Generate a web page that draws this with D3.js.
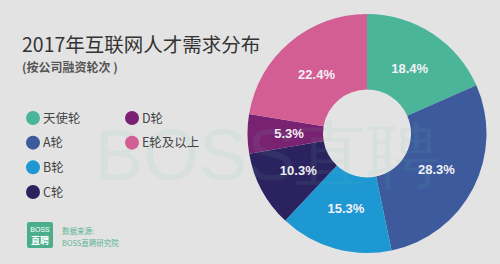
<!DOCTYPE html>
<html>
<head>
<meta charset="utf-8">
<script src="https://cdn.jsdelivr.net/npm/d3@7"></script>
<style>
  html, body { margin: 0; padding: 0; background: #e3e3e3; }
  svg { display: block; }
</style>
</head>
<body>
<div id="chart"></div>
<script>
const categories = ["天使轮", "A轮", "B轮", "C轮", "D轮", "E轮及以上"];
const shares = [18.4, 28.3, 15.3, 10.3, 5.3, 22.4];
const colors = ["#4bb59a", "#3c5a9c", "#1e98d3", "#2b2260", "#7a2272", "#d35e93"];

const width = 500, height = 264;
const cx = 367, cy = 133.5;
const outerR = 119.5, innerR = 44, labelR = 78;
const cjk = "'Noto Sans CJK SC', 'Noto Sans', sans-serif";

const svg = d3.select("#chart")
  .append("svg")
  .attr("width", width)
  .attr("height", height)
  .style("background-color", "#e3e3e3");

// title
svg.append("text")
  .attr("x", 22)
  .attr("y", 52)
  .attr("fill", "#333")
  .style("font-family", cjk)
  .style("font-size", "19.5px")
  .text("2017年互联网人才需求分布");

svg.append("text")
  .attr("x", 22)
  .attr("y", 72)
  .attr("fill", "#555")
  .style("font-family", cjk)
  .style("font-size", "12px")
  .style("font-weight", "bold")
  .text("(按公司融资轮次 )");

// donut
const pie = d3.pie().sort(null).value(d => d)
  .startAngle(0).endAngle(2 * Math.PI);
const arcs = pie(shares);
const arc = d3.arc().innerRadius(innerR).outerRadius(outerR);
const labelArc = d3.arc().innerRadius(labelR).outerRadius(labelR);

const g = svg.append("g").attr("transform", `translate(${cx},${cy})`);

g.selectAll("path")
  .data(arcs)
  .enter()
  .append("path")
  .attr("d", arc)
  .attr("fill", (d, i) => colors[i]);

// faint watermark, shows over background and donut alike
svg.append("text")
  .attr("x", 95)
  .attr("y", 180)
  .attr("fill", "#6cc8a8")
  .attr("opacity", 0.09)
  .style("font-family", "'Liberation Sans', Arial, sans-serif")
  .style("font-size", "72px")
  .text("BOSS直聘");

g.selectAll("text.pct")
  .data(arcs)
  .enter()
  .append("text")
  .attr("class", "pct")
  .attr("transform", d => `translate(${labelArc.centroid(d)})`)
  .attr("text-anchor", "middle")
  .attr("dy", "0.36em")
  .attr("fill", "#f4f1f6")
  .style("font-family", "'Liberation Sans', Arial, sans-serif")
  .style("font-size", "13px")
  .style("font-weight", "bold")
  .text(d => d.data.toFixed(1) + "%");

// legend, two columns
const legendX = [33, 132];
const legendY = d3.scaleLinear().domain([0, 3]).range([118, 192]);
const legendPos = (i) => i < 4 ? [legendX[0], legendY(i)] : [legendX[1], legendY(i - 4)];

const legend = svg.append("g")
  .selectAll("g")
  .data(categories)
  .enter()
  .append("g")
  .attr("transform", (d, i) => `translate(${legendPos(i)})`);

legend.append("circle")
  .attr("r", 7)
  .attr("fill", (d, i) => colors[i]);

legend.append("text")
  .attr("x", 10)
  .attr("dy", "0.36em")
  .attr("fill", "#444")
  .style("font-family", cjk)
  .style("font-size", "12.5px")
  .text(d => d);

// source logo
const logo = svg.append("g").attr("transform", "translate(27,222)");
logo.append("rect")
  .attr("width", 26)
  .attr("height", 26)
  .attr("rx", 2)
  .attr("fill", "#4aae8c");
logo.append("text")
  .attr("x", 13).attr("y", 10)
  .attr("text-anchor", "middle")
  .attr("fill", "#fff")
  .style("font-family", "'Liberation Sans', Arial, sans-serif")
  .style("font-size", "7px")
  .text("BOSS");
logo.append("text")
  .attr("x", 13).attr("y", 22)
  .attr("text-anchor", "middle")
  .attr("fill", "#fff")
  .style("font-family", cjk)
  .style("font-size", "9px")
  .style("font-weight", "bold")
  .text("直聘");

svg.append("text")
  .attr("x", 62).attr("y", 234)
  .attr("fill", "#5cb497")
  .style("font-family", cjk)
  .style("font-size", "7.5px")
  .text("数据来源:");
svg.append("text")
  .attr("x", 62).attr("y", 246)
  .attr("fill", "#5cb497")
  .style("font-family", cjk)
  .style("font-size", "7.5px")
  .text("BOSS直聘研究院");
</script>
</body>
</html>
